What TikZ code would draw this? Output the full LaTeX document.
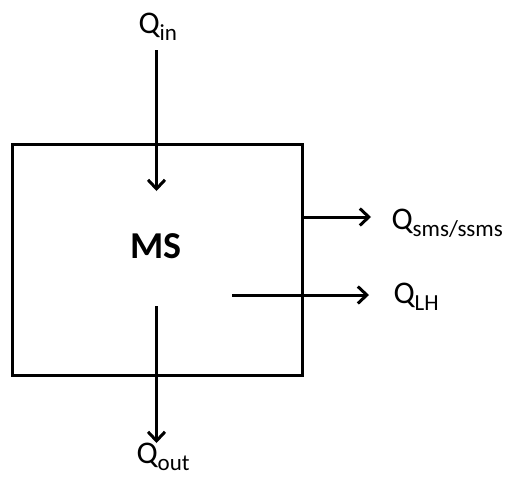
\documentclass[tikz,border=0pt]{standalone}
\usepackage{fontspec}
\setmainfont{Carlito}
\usetikzlibrary{arrows.meta}
\newcommand{\flowlbl}[2]{\fontsize{31.5}{31.5}\selectfont #1\raisebox{-7pt}{\fontsize{23}{23}\selectfont #2}}

\begin{document}
\begin{tikzpicture}[x=1pt,y=-1pt,line width=3pt,
  flow/.style={-{Straight Barb[length=9pt,width=17pt,line width=3pt]}},
  lbl/.style={inner sep=0pt,anchor=base west}]
  \useasboundingbox (0,0) rectangle (505,477);
  \draw (12.5,144.5) rectangle (302.5,375.5);
  \node[inner sep=0pt,anchor=base] (ms) at (156,258) {\fontsize{38}{38}\selectfont\bfseries MS};
  % inflow and outflow
  \node[lbl] (qin) at (137,33) {\flowlbl{Q}{in}};
  \coordinate (instart) at (156.5,50);
  \coordinate (inend) at (156.5,191);
  \draw[flow] (instart) -- (inend);
  \node[lbl] (qout) at (135,463) {\flowlbl{Q}{out}};
  \coordinate (outstart) at (156.5,306);
  \coordinate (outend) at (156.5,443);
  \draw[flow] (outstart) -- (outend);
  % side losses
  \node[lbl] (qsms) at (390,229) {\flowlbl{Q}{sms/ssms}};
  \coordinate (smsstart) at (302.5,217);
  \coordinate (smsend) at (371,217);
  \draw[flow] (smsstart) -- (smsend);
  \node[lbl] (qlh) at (392,303) {\flowlbl{Q}{LH}};
  \coordinate (lhstart) at (232,295);
  \coordinate (lhend) at (369,295);
  \draw[flow] (lhstart) -- (lhend);
\end{tikzpicture}
\end{document}
